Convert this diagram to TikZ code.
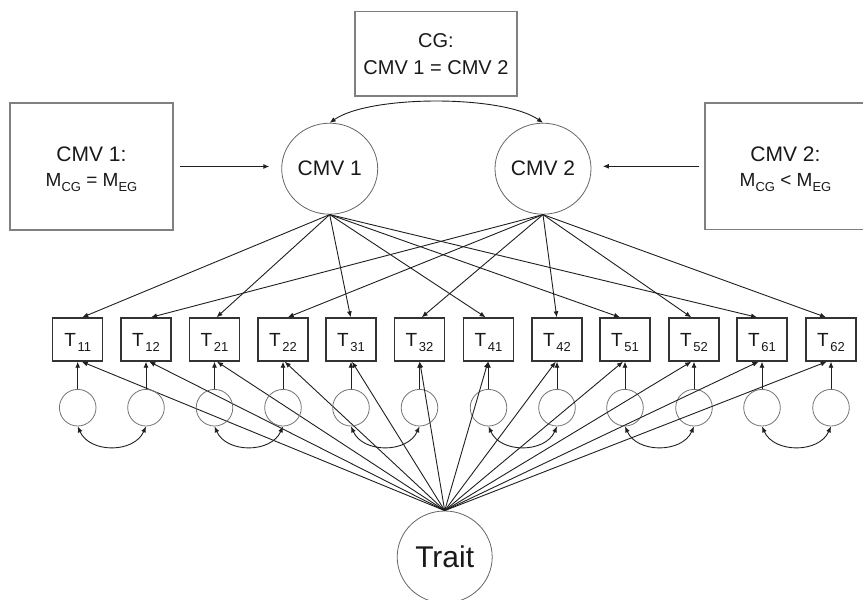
\documentclass[tikz,border=0pt]{standalone}
\usepackage{fontspec}
\setmainfont{Liberation Sans}
\usetikzlibrary{arrows.meta,shapes.geometric}

% lowered subscript that does not add depth to the line
\newcommand\lowsub[1]{\raisebox{-5pt}[0pt][0pt]{\fontsize{13}{13}\selectfont #1}}
\newcommand\tlabel[1]{T\kern1.5pt\lowsub{#1}}

\begin{document}
\begin{tikzpicture}[x=1pt,y=-1pt,
  tip/.style={-{Latex[length=6pt,width=5pt]}, draw=black!88, line width=0.9pt},
  both/.style={{Latex[length=6pt,width=5pt]}-{Latex[length=6pt,width=5pt]}, draw=black!88, line width=0.9pt},
  infobox/.style={draw=black!50, line width=1.4pt, inner sep=0pt, align=center, text=black!90},
  latent/.style={draw=black!60, line width=0.8pt, ellipse, inner sep=0pt, text=black!90},
  indic/.style={draw=black!80, line width=1.4pt, minimum width=50pt, minimum height=43pt, inner sep=0pt,
    font=\fontsize{19}{19}\selectfont, text=black!90},
  resid/.style={draw=black!55, line width=0.8pt, circle, minimum size=36.6pt, inner sep=0pt}
]
\useasboundingbox (0,0) rectangle (863,600);

% group condition boxes
\node[infobox, minimum width=162pt, minimum height=84.3pt, font=\fontsize{20}{26.7}\selectfont]
  (cg) at (436,53.85) {CG:\\CMV 1 = CMV 2};
\node[infobox, minimum width=163pt, minimum height=127pt, font=\fontsize{21}{25}\selectfont]
  (box1) at (91.5,166.5) {CMV 1:\\
  {\fontsize{19}{25}\selectfont M\lowsub{CG} = M\lowsub{EG}}};
\node[infobox, minimum width=161pt, minimum height=126.5pt, font=\fontsize{21}{25}\selectfont]
  (box2) at (785.5,166.3) {CMV 2:\\
  {\fontsize{19}{25}\selectfont M\lowsub{CG} < M\lowsub{EG}}};

% method factors and trait factor
\node[latent, minimum width=96pt, minimum height=91pt, font=\fontsize{21}{21}\selectfont]
  (cmv1) at (329.7,168.7) {CMV 1};
\node[latent, minimum width=96pt, minimum height=91pt, font=\fontsize{21}{21}\selectfont]
  (cmv2) at (543,168.7) {CMV 2};
\node[latent, minimum width=95pt, minimum height=92pt, font=\fontsize{30}{30}\selectfont]
  (trait) at (444.7,557) {Trait};

\draw[tip, shorten <=6pt, shorten >=12pt] (box1.east) -- (box1.east -| cmv1.west);
\draw[tip, shorten <=5pt, shorten >=11.5pt] (box2.west) -- (box2.west -| cmv2.east);
\draw[both] (cmv1.north) .. controls +(40,-28) and +(-40,-28) .. (cmv2.north);

% indicators, residuals and their loadings
\foreach \i/\j/\x in {1/1/77.7, 1/2/146, 2/1/214.5, 2/2/283, 3/1/351, 3/2/419.5,
                      4/1/488.5, 4/2/557, 5/1/625, 5/2/694, 6/1/762, 6/2/831} {
  \node[indic] (T\i\j) at (\x,339.5) {\tlabel{\i\j}};
  \node[resid] (e\i\j) at (\x,407.7) {};
  \draw[tip] (e\i\j.north) -- (T\i\j.south);
  \pgfmathsetmacro\tsh{(444.5-\x)/90}
  \draw[tip] (trait.north) -- ([xshift=\tsh pt]T\i\j.south);
}

% method loadings
\foreach \i/\x in {1/77.7, 2/214.5, 3/351, 4/488.5, 5/625, 6/762} {
  \pgfmathsetmacro\msh{max(-5,min(5,(329.7-\x)/55))}
  \draw[tip] (cmv1.south) -- ([xshift=\msh pt]T\i1.north);
}
\foreach \i/\x in {1/146, 2/283, 3/419.5, 4/557, 5/694, 6/831} {
  \pgfmathsetmacro\msh{max(-5,min(5,(543-\x)/55))}
  \draw[tip] (cmv2.south) -- ([xshift=\msh pt]T\i2.north);
}

% correlated residuals within each trait pair
\foreach \i in {1,...,6} {
  \draw[both] (e\i1.south) .. controls +(12,27) and +(-12,27) .. (e\i2.south);
}
\end{tikzpicture}
\end{document}
